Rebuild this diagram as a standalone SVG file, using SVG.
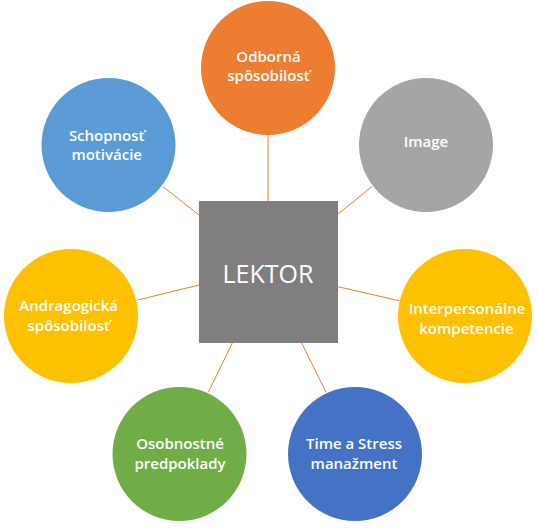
<svg xmlns="http://www.w3.org/2000/svg" width="537" height="529" viewBox="0 0 537 529">
<style>
.t{font-family:"Open Sans","Noto Sans","DejaVu Sans",sans-serif;font-weight:600;font-size:15px;fill:#fff;text-anchor:middle}
.big{font-family:"Open Sans","Noto Sans","DejaVu Sans",sans-serif;font-weight:500;font-size:25px;fill:#fff;text-anchor:middle}
.c{stroke:#ED7D31;stroke-width:1;fill:none}
</style>
<rect width="537" height="529" fill="#fff"/>
<g id="connectors">
<line class="c" x1="268" y1="135" x2="268" y2="201"/>
<line class="c" x1="338" y1="214" x2="372" y2="186.5"/>
<line class="c" x1="338" y1="286.7" x2="399" y2="300.7"/>
<line class="c" x1="301.7" y1="343" x2="326" y2="392.3"/>
<line class="c" x1="232.3" y1="343" x2="208.3" y2="392.3"/>
<line class="c" x1="137.7" y1="300" x2="199" y2="285"/>
<line class="c" x1="163" y1="186.7" x2="199" y2="215"/>
</g>
<g id="lektor">
<rect x="199" y="201" width="139" height="142" fill="#7F7F7F"/>
<text class="big" x="268" y="282.7">LEKTOR</text>
</g>
<g id="odborna">
<circle cx="268" cy="68" r="67" fill="#ED7D31"/>
<text class="t" x="268.5" y="61.5">Odborná</text>
<text class="t" x="268.5" y="80.5">spôsobilosť</text>
</g>
<g id="image">
<circle cx="426" cy="145" r="67" fill="#A5A5A5"/>
<text class="t" x="426" y="147.3">Image</text>
</g>
<g id="interpersonalne">
<circle cx="465" cy="316" r="67" fill="#FFC000"/>
<text class="t" x="467" y="314">Interpersonálne</text>
<text class="t" x="466.5" y="333.5">kompetencie</text>
</g>
<g id="time">
<circle cx="355" cy="454" r="67" fill="#4472C4"/>
<text class="t" x="354" y="448.5">Time a Stress</text>
<text class="t" x="354" y="468.7">manažment</text>
</g>
<g id="osobnostne">
<circle cx="179.5" cy="454" r="67" fill="#70AD47"/>
<text class="t" x="180" y="448.5">Osobnostné</text>
<text class="t" x="180" y="468.7">predpoklady</text>
</g>
<g id="andragogicka">
<circle cx="71" cy="316" r="67" fill="#FFC000"/>
<text class="t" x="68.7" y="310.7">Andragogická</text>
<text class="t" x="68.7" y="330.5">spôsobilosť</text>
</g>
<g id="schopnost">
<circle cx="108.5" cy="145" r="67" fill="#5B9BD5"/>
<text class="t" x="106.7" y="140.5">Schopnosť</text>
<text class="t" x="106.7" y="159.7">motivácie</text>
</g>
</svg>
